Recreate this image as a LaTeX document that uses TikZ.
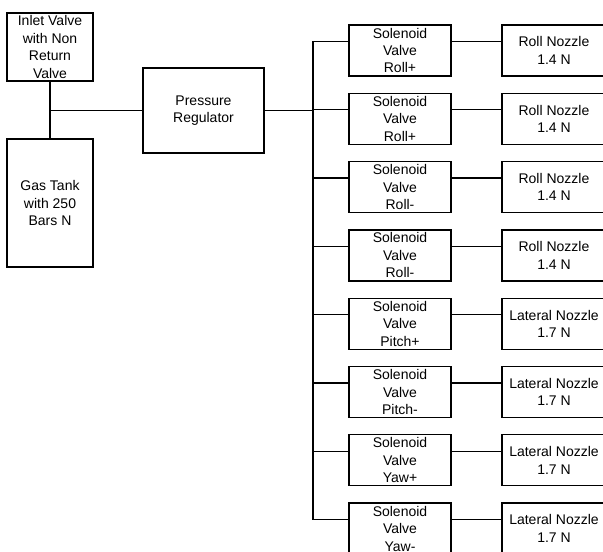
\documentclass[tikz,border=0pt]{standalone}
\usepackage{fontspec}
\setmainfont{Liberation Sans}
\begin{document}
\begin{tikzpicture}[x=0.75pt,y=-0.75pt, line width=1pt,
  blk/.style={draw, rectangle, inner sep=0pt, align=center, font=\fontsize{10.5}{13.1}\selectfont},
  sz/.style 2 args={minimum width=#1*0.75pt, minimum height=#2*0.75pt}]
\useasboundingbox (0,0) rectangle (603,552);
\clip (0,0) rectangle (603,552);
\node[blk, sz={86}{68}] (inlet) at (50,47) {Inlet Valve\\with Non\\Return\\Valve};
\node[blk, sz={86}{128}] (tank) at (50,203) {Gas Tank\\with 250\\Bars N};
\node[blk, sz={121}{85}] (reg) at (203.5,110.5) {Pressure\\Regulator};
\foreach \i/\lab/\noz in {0/{Roll+}/{Roll Nozzle\\1.4 N},1/{Roll+}/{Roll Nozzle\\1.4 N},2/{Roll-}/{Roll Nozzle\\1.4 N},3/{Roll-}/{Roll Nozzle\\1.4 N},4/{Pitch+}/{Lateral Nozzle\\1.7 N},5/{Pitch-}/{Lateral Nozzle\\1.7 N},6/{Yaw+}/{Lateral Nozzle\\1.7 N},7/{Yaw-}/{Lateral Nozzle\\1.7 N}}{
  \pgfmathsetmacro\tp{25+68.3*\i}
  \node[blk, sz={102}{51}] (s\i) at (400,\tp+25.5) {Solenoid\\Valve\\\lab};
  \node[blk, sz={104}{51}] (n\i) at (554,\tp+25.5) {\noz};
  \coordinate (b\i) at (313,\tp+16.5);
  \draw (b\i) -- (b\i -| s\i.west);
  \draw (b\i -| s\i.east) -- (b\i -| n\i.west);
}
\coordinate (j) at (inlet.south |- reg.west);
\draw (inlet) -- (tank);
\draw (j) -- (reg.west);
\draw (reg.east) -- (reg.east -| b0);
\draw (b0) -- (b7);
\end{tikzpicture}
\end{document}
